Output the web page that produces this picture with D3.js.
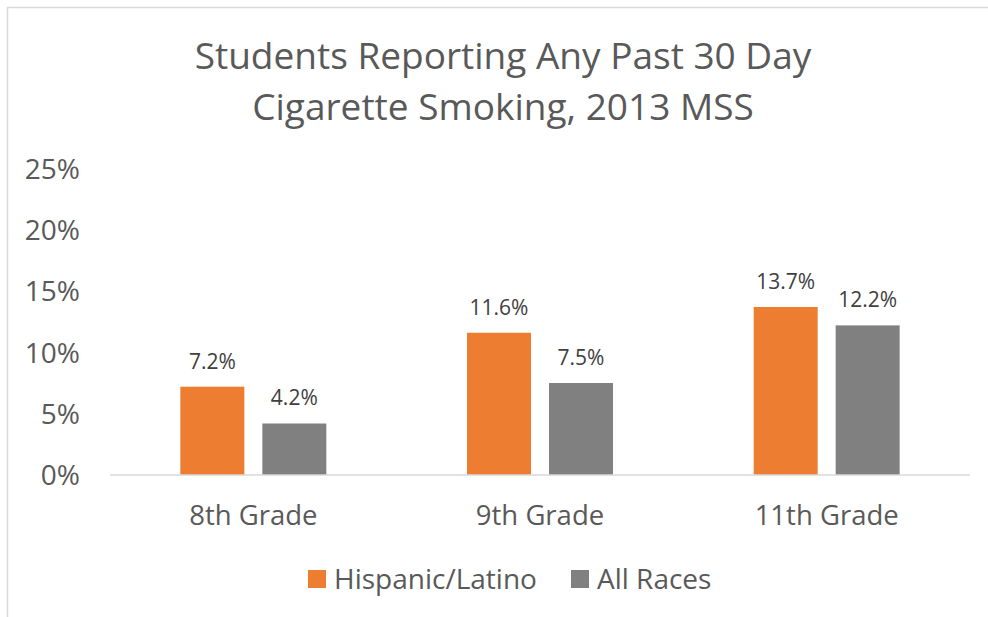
<!DOCTYPE html>
<html>
<head>
<meta charset="utf-8">
<script src="https://cdn.jsdelivr.net/npm/d3@7"></script>
<style>
  body { margin: 0; background: #fff; }
  svg text { font-family: "Open Sans", "Noto Sans", sans-serif; fill: #595959; }
</style>
</head>
<body>
<div id="chart"></div>
<script>
// data
let grades = ["8th Grade", "9th Grade", "11th Grade"];
let seriesNames = ["Hispanic/Latino", "All Races"];
let hispanic = [7.2, 11.6, 13.7];
let allRaces = [4.2, 7.5, 12.2];
let yTicks = [0, 5, 10, 15, 20, 25];
let colors = ["#ED7D31", "#808080"];

let width = 988, height = 617;

let svg = d3.select("#chart").append("svg")
    .attr("width", width)
    .attr("height", height);

// chart area border (runs off the right and bottom edge)
svg.append("rect")
    .attr("x", 7.5).attr("y", 7.5)
    .attr("width", 1000).attr("height", 1000)
    .attr("fill", "none")
    .attr("stroke", "#d9d9d9")
    .attr("stroke-width", 1.5);

// title
let title = ["Students Reporting Any Past 30 Day", "Cigarette Smoking, 2013 MSS"];
svg.selectAll(".title")
    .data(title)
    .enter().append("text")
    .attr("class", "title")
    .attr("x", 503)
    .attr("y", (d, i) => 69 + i * 51)
    .attr("text-anchor", "middle")
    .style("font-size", "37px")
    .text(d => d);

let x0 = d3.scaleBand()
    .domain(grades)
    .range([110, 970]);

let x1 = d3.scaleBand()
    .domain(seriesNames)
    .range([0, x0.bandwidth()])
    .paddingInner(18 / 82)
    .paddingOuter(0.858);

let y = d3.scaleLinear()
    .domain([0, 25])
    .range([475, 168.4]);

// y axis labels (no line, no gridlines)
let yAxis = d3.axisLeft(y)
    .tickValues(yTicks)
    .tickFormat(d => d + "%")
    .tickSize(0)
    .tickPadding(0);

let yg = svg.append("g")
    .attr("transform", "translate(80,0)")
    .call(yAxis);
yg.select(".domain").remove();
yg.selectAll("text")
    .attr("dy", "0.35em")
    .style("font-size", "28px")
    .style("font-family", null);

// bars
let rows = grades.map((g, i) => ({grade: g, values: [hispanic[i], allRaces[i]]}));

let groups = svg.selectAll(".grp")
    .data(rows)
    .enter().append("g")
    .attr("class", "grp")
    .attr("transform", d => "translate(" + x0(d.grade) + ",0)");

groups.selectAll("rect")
    .data(d => d.values.map((v, j) => ({name: seriesNames[j], value: v, j: j})))
    .enter().append("rect")
    .attr("x", d => x1(d.name))
    .attr("width", x1.bandwidth())
    .attr("y", d => y(d.value))
    .attr("height", d => y(0) - y(d.value))
    .attr("fill", d => colors[d.j]);

groups.selectAll(".lbl")
    .data(d => d.values.map((v, j) => ({name: seriesNames[j], value: v})))
    .enter().append("text")
    .attr("class", "lbl")
    .attr("x", d => x1(d.name) + x1.bandwidth() / 2)
    .attr("y", d => y(d.value) - 18)
    .attr("text-anchor", "middle")
    .style("font-size", "21px")
    .style("fill", "#404040")
    .text(d => d.value.toFixed(1) + "%");

// baseline
svg.append("line")
    .attr("x1", 110).attr("x2", 970)
    .attr("y1", y(0)).attr("y2", y(0))
    .attr("stroke", "#d9d9d9")
    .attr("stroke-width", 1.5);

// x axis labels
let xAxis = d3.axisBottom(x0).tickSize(0).tickPadding(0);
let xg = svg.append("g")
    .attr("transform", "translate(0," + y(0) + ")")
    .call(xAxis);
xg.select(".domain").remove();
xg.selectAll("text")
    .attr("y", 50)
    .attr("dy", null)
    .style("font-size", "27.5px")
    .style("font-family", null);

// legend
let legendX = [308, 571];
let lg = svg.selectAll(".leg")
    .data(seriesNames)
    .enter().append("g")
    .attr("class", "leg")
    .attr("transform", (d, i) => "translate(" + legendX[i] + ",570)");
lg.append("rect")
    .attr("width", 18).attr("height", 18)
    .attr("fill", (d, i) => colors[i]);
lg.append("text")
    .attr("x", 26).attr("y", 18.5)
    .style("font-size", "28px")
    .text(d => d);
</script>
</body>
</html>
